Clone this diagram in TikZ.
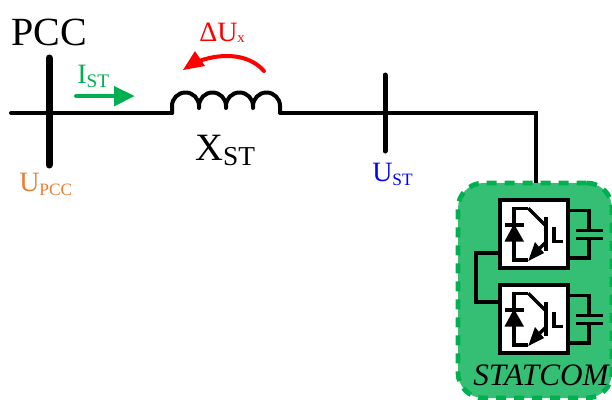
\documentclass[tikz,border=0pt]{standalone}
\usepackage{fontspec}
\setmainfont{Liberation Serif}
\usetikzlibrary{arrows.meta,calc}
\definecolor{stfill}{HTML}{34BF75}
\definecolor{stgreen}{HTML}{00B050}
\definecolor{uorange}{HTML}{ED7D31}
\tikzset{x=0.75pt,y=-0.75pt,
  wire/.style={line width=4pt*0.75,line cap=round,line join=miter},
  thin wire/.style={line width=3.2pt*0.75,line join=miter},
  busbar/.style={line width=7pt*0.75,line cap=round},
  txt/.style={inner sep=0pt},
  pics/igbt/.style={code={
    \draw[thin wire] (14.3,8.3) -- (0,8.3) -- (0,60) -- (14.3,60);
    \draw[thin wire] (14.3,8.3) -- (31,25);
    \draw[thin wire] (32,17) -- (32,51);
    \draw[thin wire] (31,43) -- (24,50);
    \fill (14.3,61) -- (30,53) -- (21,42) -- cycle;
    \fill (-9.5,41.5) -- (10,41.5) -- (0,24) -- cycle;
    \draw[thin wire] (-9.5,25) -- (10,25);
    \draw[thin wire] (40,27) -- (40,41.5) -- (49,41.5);
    \draw[thin wire] (54,10.7) -- (75,10.7) -- (75,30.7);
    \draw[thin wire] (75,38.3) -- (75,58) -- (54,58);
    \draw[line width=3.4pt*0.75] (62,30.7) -- (88.7,30.7);
    \draw[line width=3.4pt*0.75] (62,38.3) -- (88.7,38.3);
  }}
}
\begin{document}
\begin{tikzpicture}
\useasboundingbox (0,0) rectangle (612,400);
\fill[white] (0,0) rectangle (612,400);
% STATCOM enclosure
\node[draw=stgreen,fill=stfill,rounded corners=19pt,line width=3.6pt,dash pattern=on 7.5pt off 6pt,
  minimum width=154*0.75pt,minimum height=215*0.75pt,inner sep=0pt] (box) at (535,290.5) {};
% main line
\coordinate (start) at (11,113);
\coordinate (lin) at (172,113);
\coordinate (lout) at (280,113);
\coordinate (corner) at (536,113);
\coordinate (boxtop) at (536,183);
\draw[wire] (start) -- (lin);
\draw[wire,line join=round] (lin) -- (172,106)
  arc[start angle=180,end angle=360,radius=13.5] -- (199,108) -- (199,106)
  arc[start angle=180,end angle=360,radius=13.5] -- (226,108) -- (226,106)
  arc[start angle=180,end angle=360,radius=13.5] -- (253,108) -- (253,106)
  arc[start angle=180,end angle=360,radius=13.5] -- (lout);
\draw[wire,line cap=butt] (lout) -- (corner) -- (boxtop);
% bars
\coordinate (b1t) at (49,58); \coordinate (b1b) at (49,165);
\coordinate (b2t) at (385,75); \coordinate (b2b) at (385,151);
\draw[busbar] (b1t) -- (b1b);
\draw[line width=5pt*0.75,line cap=round] (b2t) -- (b2b);
% current arrow
\coordinate (ia) at (76,96); \coordinate (ib) at (114,96);
\draw[stgreen,line width=4pt*0.75,line cap=round] (ia) -- (ib);
\fill[stgreen] (114,86) -- (134.5,96) -- (114,106.5) -- cycle;
% voltage arrow
\coordinate (va) at (264,71);
\draw[red,line width=4pt*0.75,line cap=round] (va) .. controls (250,55) and (225,52) .. (199,61);
\fill[red] (183,70) -- (195,51) -- (205,66) -- cycle;
% labels
\node[txt,anchor=base west,font=\fontsize{30pt}{30pt}\selectfont] (pcc) at (11,45) {PCC};
\node[txt,anchor=base west,text=stgreen,font=\fontsize{21pt}{21pt}\selectfont] (ist) at (77,83) {I\raisebox{-3pt}{\fontsize{14.4pt}{14.4pt}\selectfont ST}};
\node[txt,anchor=base west,text=red,font=\fontsize{21pt}{21pt}\selectfont] (dux) at (199,41) {ΔU\raisebox{-1pt}{\fontsize{11pt}{11pt}\selectfont x}};
\node[txt,anchor=base west,font=\fontsize{29pt}{29pt}\selectfont] (xst) at (195,160) {X\raisebox{-4pt}{\fontsize{20.5pt}{20.5pt}\selectfont ST}};
\node[txt,anchor=base west,text=uorange,font=\fontsize{21pt}{21pt}\selectfont] (upcc) at (19,191) {U\raisebox{-3pt}{\fontsize{13pt}{13pt}\selectfont PCC}};
\node[txt,anchor=base west,text=blue,font=\fontsize{21pt}{21pt}\selectfont] (ust) at (372,181) {U\raisebox{-3pt}{\fontsize{13pt}{13pt}\selectfont ST}};
% modules
\node[draw,fill=white,line width=3.4pt*0.75,minimum width=68*0.75pt,minimum height=68*0.75pt,inner sep=0pt] (m1) at (534,234) {};
\node[draw,fill=white,line width=3.4pt*0.75,minimum width=68*0.75pt,minimum height=68*0.75pt,inner sep=0pt] (m2) at (534,319) {};
\pic at (514,200) {igbt};
\pic at (514,285) {igbt};
\coordinate (la) at (476,253); \coordinate (lb) at (476,302);
\draw[thin wire] (m1.west |- la) -- (la) -- (lb) -- (m2.west |- lb);
\node[txt,anchor=base,font=\itshape\fontsize{23.4pt}{23.4pt}\selectfont] (st) at (541,385) {STATCOM};
\end{tikzpicture}
\end{document}
